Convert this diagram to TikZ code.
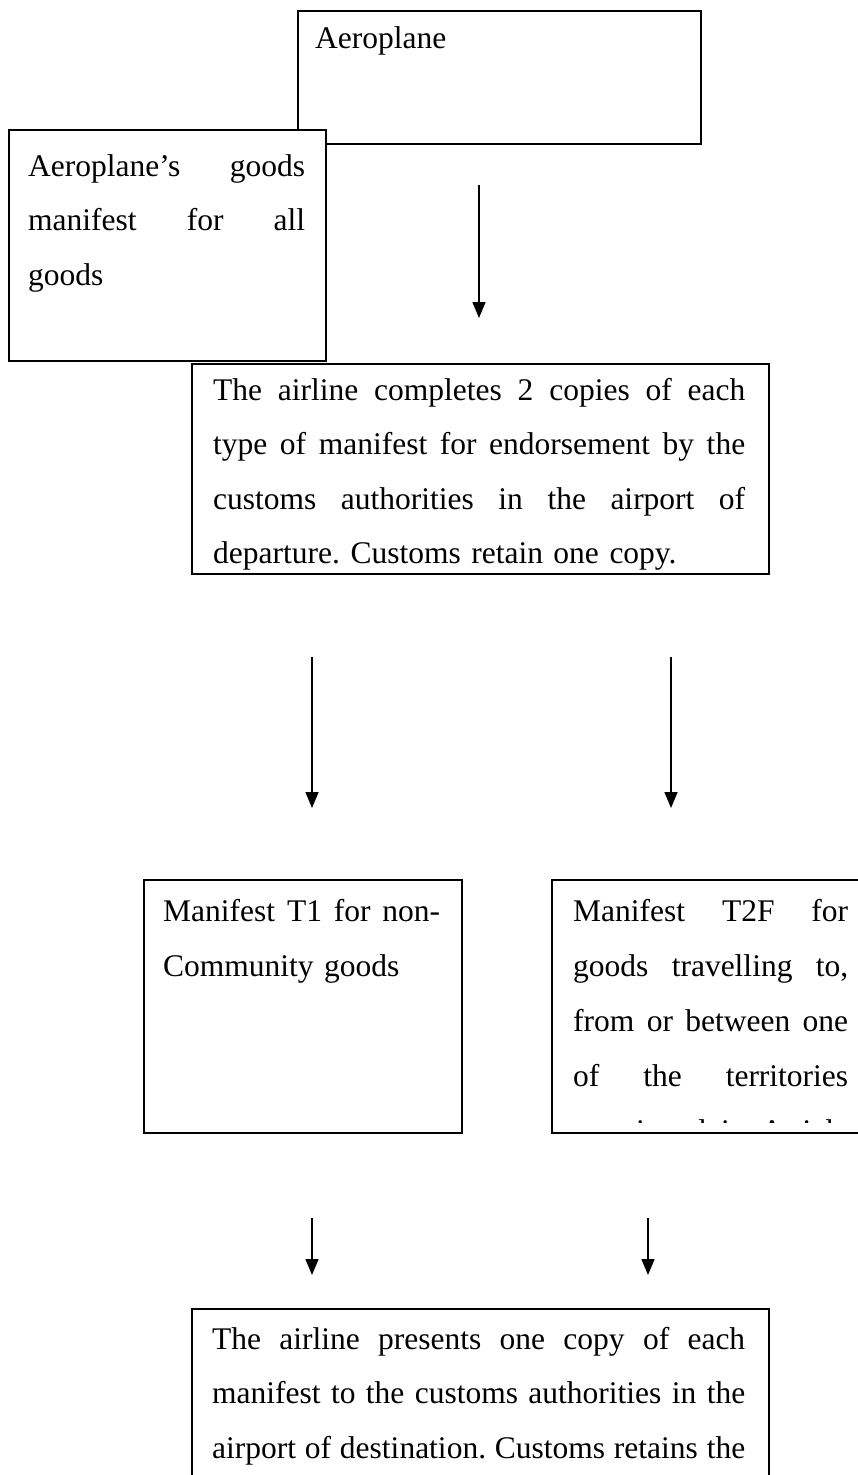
\documentclass[tikz,border=0pt]{standalone}
\usepackage{fontspec}
\setmainfont{Liberation Serif}
\usetikzlibrary{arrows.meta}
\newcommand{\jrow}[2]{\leavevmode\hbox to #1{#2}}
\newcommand{\g}{\hfill}
\frenchspacing
\begin{document}
\begin{tikzpicture}[x=1pt,y=-1pt,
  box/.style={draw=black, line width=1.7pt, fill=white, inner sep=0pt, anchor=north west},
  txt/.style={anchor=base west, inner sep=0pt, text width=#1, align=left,
    font=\fontsize{31.5}{54.5}\selectfont},
  arr/.style={line width=1.5pt, -{Triangle[length=16pt,width=13pt]}}]
\useasboundingbox (0,0) rectangle (858,1475);
% Aeroplane
\node[box, minimum width=403pt, minimum height=133pt] (A) at (297,10) {};
\node[txt=380pt] (At) at (315,48) {Aeroplane};
% Aeroplane's goods manifest
\node[box, minimum width=317pt, minimum height=231pt] (M) at (8,129) {};
\node[txt=280pt] (Mt) at (28,176) {\jrow{277pt}{Aeroplane’s\g goods}\\ \jrow{277pt}{manifest\g for\g all}\\ goods};
% arrow 1
\coordinate (a1s) at (479,185);
\coordinate (a1e) at (479,318);
\draw[arr] (a1s) -- (a1e);
% Box 3
\node[box, minimum width=577pt, minimum height=210pt] (C) at (191,363) {};
\node[txt=540pt] (Ct) at (213,400) {\jrow{532pt}{The\g airline\g completes\g 2\g copies\g of\g each}\\
  \jrow{532pt}{type\g of\g manifest\g for\g endorsement\g by\g the}\\
  \jrow{532pt}{customs\g authorities\g in\g the\g airport\g of}\\
  departure. Customs retain one copy.};
% arrows 2
\coordinate (a2s) at (312,657);
\coordinate (a2e) at (312,808);
\coordinate (a3s) at (671,657);
\coordinate (a3e) at (671,808);
\draw[arr] (a2s) -- (a2e);
\draw[arr] (a3s) -- (a3e);
% T1
\node[box, minimum width=318pt, minimum height=253pt] (T1) at (143,879) {};
\node[txt=285pt, font=\fontsize{31.5}{55}\selectfont] (T1t) at (163,921) {\jrow{277pt}{Manifest\g T1\g for\g non-}\\ Community goods};
% T2F
\node[box, minimum width=318pt, minimum height=253pt] (T2) at (551,879) {};
\begin{scope}
\clip (551,879) rectangle (870,1122.5);
\node[txt=285pt, font=\fontsize{31.5}{55}\selectfont] (T2t) at (573,921) {\jrow{275pt}{Manifest\g T2F\g for}\\
  \jrow{275pt}{goods\g travelling\g to,}\\
  \jrow{275pt}{from\g or\g between\g one}\\
  \jrow{275pt}{of\g the\g territories}\\
  \jrow{275pt}{mentioned\g in\g Article}};
\end{scope}
% arrows 3
\coordinate (a4s) at (312,1218);
\coordinate (a4e) at (312,1275);
\coordinate (a5s) at (648,1218);
\coordinate (a5e) at (648,1275);
\draw[arr] (a4s) -- (a4e);
\draw[arr] (a5s) -- (a5e);
% bottom box
\node[box, minimum width=577pt, minimum height=200pt] (D) at (191,1308) {};
\node[txt=540pt] (Dt) at (212,1349) {\jrow{533pt}{The\g airline\g presents\g one\g copy\g of\g each}\\
  \jrow{533pt}{manifest\g to\g the\g customs\g authorities\g in\g the}\\
  \jrow{533pt}{airport\g of\g destination.\g Customs\g retains\g the}};
\end{tikzpicture}
\end{document}
